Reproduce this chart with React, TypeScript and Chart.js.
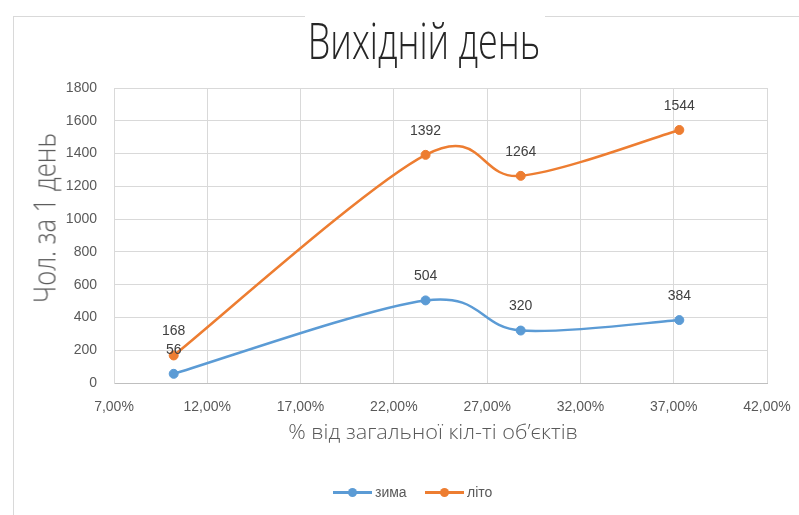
import React, { useEffect, useLayoutEffect, useRef, useState } from "react";
import { Chart, registerables } from "chart.js";

Chart.register(...registerables);

// ---- data ----
const chartTitle = "Вихідній день";
const xAxisTitle = "% від загальної кіл-ті об’єктів";
const yAxisTitle = "Чол. за 1 день";
const seriesNames = ["зима", "літо"];
const xPercent = [10.2, 23.7, 28.8, 37.3];
const winterValues = [56, 504, 320, 384];
const summerValues = [168, 1392, 1264, 1544];
const xTickMin = 7;
const xTickMax = 42;
const xTickStep = 5;
const yTickMin = 0;
const yTickMax = 1800;
const yTickStep = 200;

const BLUE = "#5B9BD5";
const ORANGE = "#ED7D31";
const TICK_FONT = '"Liberation Sans", Arial, sans-serif';
const COND_FONT = '"Open Sans", "DejaVu Sans Condensed", "DejaVu Sans", sans-serif';

const fmtPct = (v: number) => v.toFixed(2).replace(".", ",") + "%";

// Excel-like smoothing (Catmull-Rom style control points, 1/6 of neighbour span)
const excelSmooth = {
  id: "excelSmooth",
  beforeDatasetsDraw(chart: any) {
    chart.data.datasets.forEach((_ds: any, i: number) => {
      const meta = chart.getDatasetMeta(i);
      const pts = meta.data;
      const n = pts.length;
      for (let k = 0; k < n; k++) {
        const p = pts[k];
        const prev = pts[Math.max(0, k - 1)];
        const next = pts[Math.min(n - 1, k + 1)];
        const dx = (next.x - prev.x) / 6;
        const dy = (next.y - prev.y) / 6;
        p.cp1x = p.x - dx;
        p.cp1y = p.y - dy;
        p.cp2x = p.x + dx;
        p.cp2y = p.y + dy;
      }
      if (meta.dataset) meta.dataset._pointsUpdated = true;
    });
  },
};

const valueLabels = {
  id: "valueLabels",
  afterDatasetsDraw(chart: any) {
    const ctx = chart.ctx;
    ctx.save();
    ctx.font = `14px ${TICK_FONT}`;
    ctx.fillStyle = "#404040";
    ctx.textAlign = "center";
    ctx.textBaseline = "middle";
    chart.data.datasets.forEach((ds: any, i: number) => {
      const meta = chart.getDatasetMeta(i);
      meta.data.forEach((pt: any, j: number) => {
        ctx.fillText(String(ds.data[j].y), pt.x, pt.y - 24);
      });
    });
    ctx.restore();
  },
};

function FitText(props: {
  text: string;
  cx: number;
  cy: number;
  width: number;
  size: number;
  family: string;
  weight?: number | string;
  color: string;
  rotate?: boolean;
}) {
  const ref = useRef<HTMLSpanElement>(null);
  const [sx, setSx] = useState(1);
  useLayoutEffect(() => {
    if (ref.current) {
      const w = ref.current.offsetWidth;
      if (w > 0) setSx(props.width / w);
    }
  }, [props.text, props.width]);
  return (
    <span
      ref={ref}
      style={{
        position: "absolute",
        left: props.cx,
        top: props.cy,
        whiteSpace: "nowrap",
        fontSize: props.size,
        lineHeight: 1,
        fontFamily: props.family,
        fontWeight: props.weight ?? "normal",
        color: props.color,
        transformOrigin: "center",
        transform: `translate(-50%, -50%) ${props.rotate ? "rotate(-90deg)" : ""} scaleX(${sx})`,
      }}
    >
      {props.text}
    </span>
  );
}

function LegendItem(props: { x: number; color: string; label: string }) {
  const y = 492;
  return (
    <>
      <div style={{ position: "absolute", left: props.x, top: y - 1.5, width: 39, height: 3, background: props.color }} />
      <div
        style={{
          position: "absolute",
          left: props.x + 19.5 - 4.5,
          top: y - 4.5,
          width: 9,
          height: 9,
          borderRadius: "50%",
          background: props.color,
        }}
      />
      <span
        style={{
          position: "absolute",
          left: props.x + 42,
          top: y - 8,
          lineHeight: "16px",
          fontSize: 14,
          fontFamily: TICK_FONT,
          color: "#595959",
          whiteSpace: "nowrap",
        }}
      >
        {props.label}
      </span>
    </>
  );
}

export default function App() {
  const canvasRef = useRef<HTMLCanvasElement>(null);

  useEffect(() => {
    if (!canvasRef.current) return;
    const mk = (vals: number[]) => xPercent.map((x, i) => ({ x, y: vals[i] }));
    const ds = (label: string, vals: number[], color: string) => ({
      label,
      data: mk(vals),
      borderColor: color,
      backgroundColor: color,
      borderWidth: 2.5,
      pointRadius: 4.5,
      pointBorderWidth: 1,
      tension: 0.4,
      fill: false,
    });
    const chart = new Chart(canvasRef.current, {
      type: "line",
      data: {
        datasets: [ds(seriesNames[0], winterValues, BLUE), ds(seriesNames[1], summerValues, ORANGE)],
      },
      options: {
        animation: false,
        responsive: false,
        devicePixelRatio: 1,
        layout: { padding: { top: 88, right: 32, left: 0, bottom: 0 } },
        plugins: {
          legend: { display: false },
          title: { display: false },
          tooltip: { enabled: false },
        },
        scales: {
          x: {
            type: "linear",
            min: xTickMin,
            max: xTickMax,
            ticks: {
              stepSize: xTickStep,
              autoSkip: false,
              maxRotation: 0,
              color: "#595959",
              font: { family: TICK_FONT, size: 14 },
              padding: 16,
              callback: (v: any) => fmtPct(Number(v)),
            },
            grid: { color: "#d9d9d9", drawTicks: false },
            border: { color: "#bfbfbf" },
            afterFit: (s: any) => {
              s.height = 132;
              s.paddingLeft = 0;
              s.paddingRight = 0;
            },
          },
          y: {
            min: yTickMin,
            max: yTickMax,
            ticks: {
              stepSize: yTickStep,
              color: "#595959",
              font: { family: TICK_FONT, size: 14 },
              padding: 17,
              callback: (v: any) => String(v),
            },
            grid: { color: "#d9d9d9", drawTicks: false },
            border: { color: "#d9d9d9" },
            afterFit: (s: any) => {
              s.width = 114;
            },
          },
        },
      },
      plugins: [excelSmooth, valueLabels],
    } as any);
    return () => chart.destroy();
  }, []);

  return (
    <div style={{ position: "absolute", left: 0, top: 0, width: 799, height: 515, background: "#fff", overflow: "hidden" }}>
      {/* outer frame */}
      <div style={{ position: "absolute", left: 13, top: 16, width: 1, height: 499, background: "#d9d9d9" }} />
      <div style={{ position: "absolute", left: 13, top: 16, width: 292, height: 1, background: "#d9d9d9" }} />
      <div style={{ position: "absolute", left: 545, top: 16, width: 254, height: 1, background: "#d9d9d9" }} />
      <canvas ref={canvasRef} width={799} height={515} style={{ position: "absolute", left: 0, top: 0, display: "block" }} />
      <FitText text={chartTitle} cx={424} cy={40} width={232} size={50} family={COND_FONT} weight={300} color="#262626" />
      <FitText text={xAxisTitle} cx={433} cy={431} width={290} size={21} family={COND_FONT} weight={300} color="#595959" />
      <FitText text={yAxisTitle} cx={44} cy={218} width={170} size={31} family={COND_FONT} weight={300} color="#595959" rotate />
      <LegendItem x={333} color={BLUE} label={seriesNames[0]} />
      <LegendItem x={425} color={ORANGE} label={seriesNames[1]} />
    </div>
  );
}
